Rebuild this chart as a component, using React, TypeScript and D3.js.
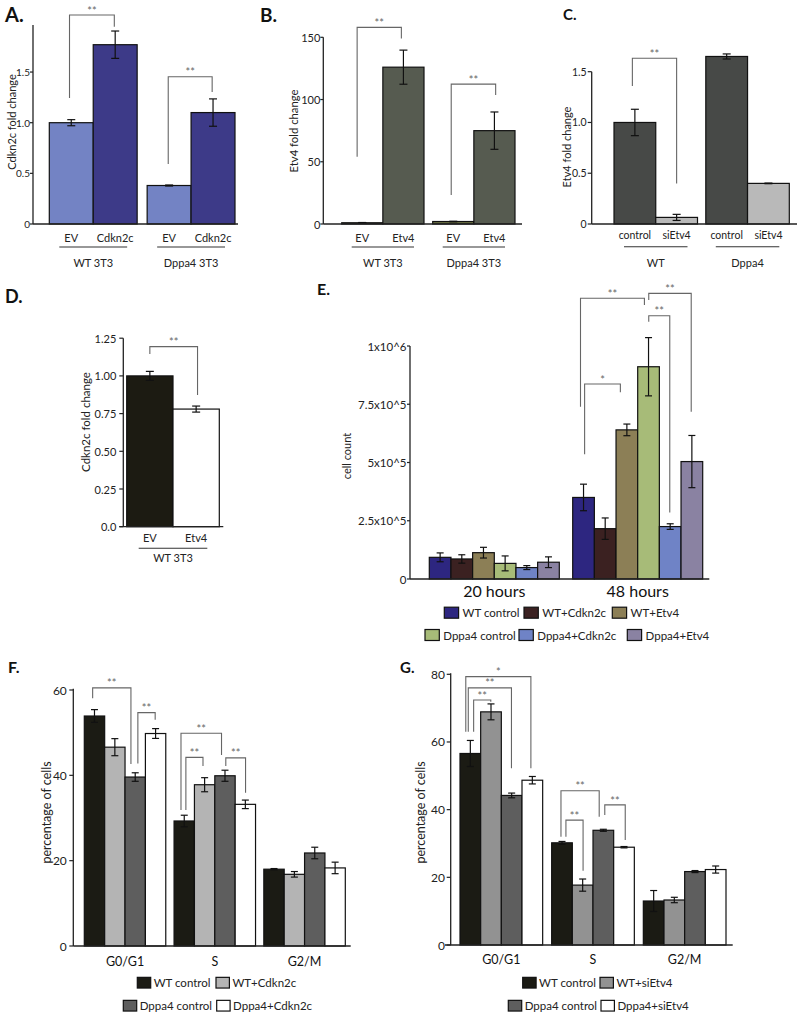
import React from "react";
import * as d3 from "d3";

const FONT = "Lato, 'Open Sans', 'DejaVu Sans', sans-serif";

// ---------------- Panel A ----------------
const aGroups = ["WT 3T3", "Dppa4 3T3"];
const aSeries = ["EV", "Cdkn2c"];
const aValues = [[1.0, 1.77], [0.38, 1.1]];
const aErrors = [[0.03, 0.135], [0.005, 0.135]];
const aColors = ["#7383c4", "#3d3a88"];
const aTicks = [0, 0.5, 1.0, 1.5];
const aTickLabels = ["0", "0.5", "1.0", "1.5"];
const aBrackets = [
  { g1: 0, s1: 0, f1: 0.46, b1: 1.244, top: 2.063, g2: 0, s2: 1, f2: 0.48, b2: 1.948, label: "**" },
  { g1: 1, s1: 0, f1: 0.48, b1: 0.592, top: 1.454, g2: 1, s2: 1, f2: 0.48, b2: 1.303, label: "**" },
];

// ---------------- Panel B ----------------
const bGroups = ["WT 3T3", "Dppa4 3T3"];
const bSeries = ["EV", "Etv4"];
const bValues = [[1.0, 126], [2.0, 75]];
const bErrors = [[0.2, 13.7], [0.2, 15]];
const bColors = ["#6c7245", "#565b50"];
const bTicks = [0, 50, 100, 150];
const bTickLabels = ["0", "50", "100", "150"];
const bBrackets = [
  { g1: 0, s1: 0, f1: 0.375, b1: 54, top: 158, g2: 0, s2: 1, f2: 0.45, b2: 149, label: "**" },
  { g1: 1, s1: 0, f1: 0.45, b1: 23.3, top: 112.4, g2: 1, s2: 1, f2: 0.53, b2: 103.6, label: "**" },
];

// ---------------- Panel C ----------------
const cGroups = ["WT", "Dppa4"];
const cSeries = ["control", "siEtv4"];
const cValues = [[1.0, 0.065], [1.65, 0.4]];
const cErrors = [[0.13, 0.03], [0.025, 0.003]];
const cColors = ["#474947", "#b9b9b9"];
const cTicks = [0, 0.5, 1.0, 1.5];
const cTickLabels = ["0", "0.5", "1.0", "1.5"];
const cBrackets = [
  { g1: 0, s1: 0, f1: 0.44, b1: 1.36, top: 1.633, g2: 0, s2: 1, f2: 0.5, b2: 0.4, label: "**" },
];

// ---------------- Panel D ----------------
const dGroups = ["WT 3T3"];
const dSeries = ["EV", "Etv4"];
const dValues = [[1.0, 0.78]];
const dErrors = [[0.03, 0.02]];
const dColors = ["#1c1b12", "#ffffff"];
const dTicks = [0, 0.25, 0.5, 0.75, 1.0, 1.25];
const dTickLabels = ["0.0", "0.25", "0.50", "0.75", "1.00", "1.25"];
const dBrackets = [
  { g1: 0, s1: 0, f1: 0.5, b1: 1.145, top: 1.194, g2: 0, s2: 1, f2: 0.53, b2: 0.873, label: "**" },
];

// ---------------- Panel E ----------------
const eGroups = ["20 hours", "48 hours"];
const eSeries = ["WT control", "WT+Cdkn2c", "WT+Etv4", "Dppa4 control", "Dppa4+Cdkn2c", "Dppa4+Etv4"];
const eValues = [
  [93000, 86000, 113000, 67000, 49000, 72000],
  [350000, 216000, 640000, 911000, 225000, 504000],
];
const eErrors = [
  [19000, 18000, 23000, 32000, 8500, 23000],
  [57000, 46000, 25000, 125000, 12000, 112000],
];
const eColors = ["#2d2680", "#3b2121", "#8c7f56", "#a7bb78", "#6f83c6", "#8a82a2"];
const eTicks = [0, 250000, 500000, 750000, 1000000];
const eTickLabels = ["0", "2.5x10^5", "5x10^5", "7.5x10^5", "1x10^6"];
const eBrackets = [
  { g1: 1, s1: 0, f1: 0.55, b1: 535000, top: 837000, g2: 1, s2: 2, f2: 0.2, b2: 801000, label: "*" },
  { g1: 1, s1: 0, f1: 0.36, b1: 739000, top: 1205000, g2: 1, s2: 3, f2: 0.31, b2: 1176000, label: "**" },
  { g1: 1, s1: 3, f1: 0.51, b1: 1197000, top: 1226000, g2: 1, s2: 5, f2: 0.47, b2: 718000, label: "**" },
  { g1: 1, s1: 3, f1: 0.51, b1: 1104000, top: 1130000, g2: 1, s2: 4, f2: 0.48, b2: 285000, label: "**" },
];

// ---------------- Panel F ----------------
const fGroups = ["G0/G1", "S", "G2/M"];
const fSeries = ["WT control", "WT+Cdkn2c", "Dppa4 control", "Dppa4+Cdkn2c"];
const fValues = [
  [53.9, 46.6, 39.6, 49.8],
  [29.3, 37.8, 39.9, 33.2],
  [18.0, 16.8, 21.8, 18.3],
];
const fErrors = [
  [1.5, 2.0, 1.0, 1.15],
  [1.35, 1.65, 1.3, 1.0],
  [0.15, 0.65, 1.35, 1.35],
];
const fColors = ["#1b1b14", "#b4b4b4", "#5e5e5e", "#ffffff"];
const fTicks = [0, 20, 40, 60];
const fTickLabels = ["0", "20", "40", "60"];
const fBrackets = [
  { g1: 0, s1: 0, f1: 0.41, b1: 58.05, top: 60.5, g2: 0, s2: 2, f2: 0.29, b2: 42.65, label: "**" },
  { g1: 0, s1: 2, f1: 0.63, b1: 42.8, top: 54.7, g2: 0, s2: 3, f2: 0.48, b2: 53.0, label: "**" },
  { g1: 1, s1: 0, f1: 0.34, b1: 31.9, top: 49.85, g2: 1, s2: 2, f2: 0.33, b2: 44.76, label: "**" },
  { g1: 1, s1: 0, f1: 0.58, b1: 31.9, top: 44.2, g2: 1, s2: 1, f2: 0.42, b2: 42.2, label: "**" },
  { g1: 1, s1: 2, f1: 0.54, b1: 42.2, top: 44.1, g2: 1, s2: 3, f2: 0.51, b2: 35.9, label: "**" },
];

// ---------------- Panel G ----------------
const gGroups = ["G0/G1", "S", "G2/M"];
const gSeries = ["WT control", "WT+siEtv4", "Dppa4 control", "Dppa4+siEtv4"];
const gValues = [
  [56.6, 68.9, 44.2, 48.7],
  [30.2, 17.7, 33.9, 28.9],
  [13.0, 13.3, 21.7, 22.3],
];
const gErrors = [
  [3.85, 2.35, 0.7, 1.1],
  [0.4, 1.8, 0.3, 0.2],
  [3.1, 0.8, 0.3, 1.05],
];
const gColors = ["#1b1b14", "#929292", "#5e5e5e", "#ffffff"];
const gTicks = [0, 20, 40, 60, 80];
const gTickLabels = ["0", "20", "40", "60", "80"];
const gBrackets = [
  { g1: 0, s1: 0, f1: 0.28, b1: 63.0, top: 79.3, g2: 0, s2: 3, f2: 0.43, b2: 52.2, label: "*" },
  { g1: 0, s1: 0, f1: 0.4, b1: 63.0, top: 76.0, g2: 0, s2: 2, f2: 0.49, b2: 52.2, label: "**" },
  { g1: 0, s1: 0, f1: 0.66, b1: 63.0, top: 72.4, g2: 0, s2: 1, f2: 0.49, b2: 71.9, label: "**" },
  { g1: 1, s1: 0, f1: 0.45, b1: 32.0, top: 45.6, g2: 1, s2: 2, f2: 0.3, b2: 37.9, label: "**" },
  { g1: 1, s1: 0, f1: 0.69, b1: 32.0, top: 36.9, g2: 1, s2: 1, f2: 0.52, b2: 21.95, label: "**" },
  { g1: 1, s1: 2, f1: 0.57, b1: 38.4, top: 41.4, g2: 1, s2: 3, f2: 0.56, b2: 31.0, label: "**" },
];

type Bracket = {
  g1: number; s1: number; f1: number; b1: number; top: number;
  g2: number; s2: number; f2: number; b2: number; label: string;
};

type PanelProps = {
  groups: string[];
  series: string[];
  values: number[][];
  errors: number[][];
  colors: string[];
  yDomain: [number, number];
  yRange: [number, number];
  axisX: number;
  axisTop: number;
  xRange: [number, number];
  gap: number;
  xAxisStart: number;
  xAxisEnd: number;
  ticks: number[];
  tickLabels: string[];
  tickFont: number;
  tickLen: number;
  tickGap: number;
  brackets: Bracket[];
  capW: number;
  mode: "sub" | "group";
  subY?: number;
  lineY?: number;
  groupY: number;
  labelFont: number;
  groupFont: number;
  lineInset?: number;
  starFont: number;
};

function BarPanel(p: PanelProps) {
  const y = d3.scaleLinear().domain(p.yDomain).range(p.yRange);
  const n = p.groups.length;
  const bw = (p.xRange[1] - p.xRange[0] - (n - 1) * p.gap) / n;
  const pad = n > 1 ? p.gap / (bw + p.gap) : 0;
  const outer = d3.scaleBand<string>().domain(p.groups).range(p.xRange).paddingInner(pad).paddingOuter(0);
  const inner = d3.scaleBand<string>().domain(p.series).range([0, outer.bandwidth()]);
  const bx = (g: number, s: number) => (outer(p.groups[g]) ?? 0) + (inner(p.series[s]) ?? 0);
  const w = inner.bandwidth();
  const y0 = y(0);

  const bars: React.ReactNode[] = [];
  const errs: React.ReactNode[] = [];
  p.values.forEach((row, g) =>
    row.forEach((v, s) => {
      const x = bx(g, s);
      bars.push(
        <rect key={`b${g}-${s}`} x={x} y={y(v)} width={w} height={y0 - y(v)}
          fill={p.colors[s]} stroke="#111" strokeWidth={1.2} />
      );
      const e = p.errors[g][s];
      const cx = x + w / 2;
      const yt = y(v + e);
      const yb = y(v - e);
      errs.push(
        <g key={`e${g}-${s}`} stroke="#111" strokeWidth={1.2}>
          <line x1={cx} x2={cx} y1={yt} y2={yb} />
          <line x1={cx - p.capW} x2={cx + p.capW} y1={yt} y2={yt} />
          <line x1={cx - p.capW} x2={cx + p.capW} y1={yb} y2={yb} />
        </g>
      );
    })
  );

  const brackets = p.brackets.map((b, i) => {
    const xl = bx(b.g1, b.s1) + w * b.f1;
    const xr = bx(b.g2, b.s2) + w * b.f2;
    const yt = y(b.top);
    return (
      <g key={`k${i}`}>
        <path d={`M${xl},${y(b.b1)}V${yt}H${xr}V${y(b.b2)}`} fill="none" stroke="#666" strokeWidth={1.1} />
        <text x={(xl + xr) / 2} y={yt - 7 + p.starFont * 0.6} textAnchor="middle" fontSize={p.starFont}
          fill="#666" fontFamily={FONT}>{b.label}</text>
      </g>
    );
  });

  const labels: React.ReactNode[] = [];
  if (p.mode === "sub") {
    p.groups.forEach((gname, g) => {
      p.series.forEach((sname, s) => {
        labels.push(
          <text key={`s${g}-${s}`} x={bx(g, s) + w / 2} y={p.subY} textAnchor="middle"
            dominantBaseline="central" fontSize={p.labelFont} fontFamily={FONT} fill="#222">{sname}</text>
        );
      });
      const gx = outer(gname) ?? 0;
      const inset = p.lineInset ?? 10;
      labels.push(
        <line key={`l${g}`} x1={gx + inset} x2={gx + outer.bandwidth() - inset} y1={p.lineY} y2={p.lineY}
          stroke="#333" strokeWidth={1.1} />
      );
      labels.push(
        <text key={`g${g}`} x={gx + outer.bandwidth() / 2} y={p.groupY} textAnchor="middle"
          dominantBaseline="central" fontSize={p.groupFont} fontFamily={FONT} fill="#222">{gname}</text>
      );
    });
  } else {
    p.groups.forEach((gname, g) => {
      const gx = outer(gname) ?? 0;
      labels.push(
        <text key={`g${g}`} x={gx + outer.bandwidth() / 2} y={p.groupY} textAnchor="middle"
          dominantBaseline="central" fontSize={p.groupFont} fontFamily={FONT} fill="#111">{gname}</text>
      );
    });
  }

  return (
    <g>
      {bars}
      {errs}
      {brackets}
      <line x1={p.axisX} x2={p.axisX} y1={y0} y2={y(p.axisTop)} stroke="#222" strokeWidth={1.3} />
      <line x1={p.xAxisStart} x2={p.xAxisEnd} y1={y0} y2={y0} stroke="#222" strokeWidth={1.3} />
      {p.ticks.map((t, i) => (
        <g key={`t${i}`}>
          <line x1={p.axisX - p.tickLen} x2={p.axisX} y1={y(t)} y2={y(t)} stroke="#222" strokeWidth={1.2} />
          <text x={p.axisX - p.tickGap} y={y(t)} textAnchor="end" dominantBaseline="central"
            fontSize={p.tickFont} fontFamily={FONT} fill="#222">{p.tickLabels[i]}</text>
        </g>
      ))}
      {labels}
    </g>
  );
}

function Legend(props: {
  series: string[]; colors: string[]; rows: number[][]; rowY: number[]; rowX: number[][];
  sw: number; sh: number; gapText: number; font: number;
}) {
  const items: React.ReactNode[] = [];
  props.rows.forEach((row, r) =>
    row.forEach((si, k) => {
      const x = props.rowX[r][k];
      const yc = props.rowY[r];
      items.push(
        <g key={`${r}-${k}`}>
          <rect x={x} y={yc - props.sh / 2} width={props.sw} height={props.sh}
            fill={props.colors[si]} stroke="#111" strokeWidth={1.2} />
          <text x={x + props.sw + props.gapText} y={yc} dominantBaseline="central"
            fontSize={props.font} fontFamily={FONT} fill="#222">{props.series[si]}</text>
        </g>
      );
    })
  );
  return <g>{items}</g>;
}

function AxisTitle(props: { x: number; y: number; text: string; size: number }) {
  return (
    <text transform={`translate(${props.x},${props.y}) rotate(-90)`} textAnchor="middle"
      dominantBaseline="central" fontSize={props.size} fontFamily={FONT} fill="#222">{props.text}</text>
  );
}

function PanelLetter(props: { x: number; y: number; text: string; size: number }) {
  return (
    <text x={props.x} y={props.y} fontSize={props.size} fontWeight="bold" fontFamily={FONT} fill="#111">
      {props.text}
    </text>
  );
}

export default function App() {
  return (
    <svg width={800} height={1014} style={{ position: "absolute", left: 0, top: 0, background: "#fff" }}>
      <rect x={0} y={0} width={800} height={1014} fill="#fff" />

      {/* A */}
      <PanelLetter x={5} y={22} text="A." size={20} />
      <AxisTitle x={11.5} y={122} text="Cdkn2c fold change" size={11} />
      <BarPanel groups={aGroups} series={aSeries} values={aValues} errors={aErrors} colors={aColors}
        yDomain={[0, 1]} yRange={[224, 122.7]} axisX={33} axisTop={1.965}
        xRange={[49.3, 235]} gap={10} xAxisStart={33} xAxisEnd={238}
        ticks={aTicks} tickLabels={aTickLabels} tickFont={10} tickLen={3} tickGap={3}
        brackets={aBrackets} capW={4}
        mode="sub" subY={237} lineY={247} groupY={262} labelFont={11} groupFont={11} starFont={11} />

      {/* B */}
      <PanelLetter x={260} y={22} text="B." size={19} />
      <AxisTitle x={293.3} y={131} text="Etv4 fold change" size={11.3} />
      <BarPanel groups={bGroups} series={bSeries} values={bValues} errors={bErrors} colors={bColors}
        yDomain={[0, 150]} yRange={[224, 37.3]} axisX={323.3} axisTop={150}
        xRange={[341.7, 515]} gap={8.7} xAxisStart={323.3} xAxisEnd={522}
        ticks={bTicks} tickLabels={bTickLabels} tickFont={11} tickLen={3} tickGap={3}
        brackets={bBrackets} capW={4}
        mode="sub" subY={237} lineY={247} groupY={262} labelFont={11} groupFont={11} starFont={11} />

      {/* C */}
      <PanelLetter x={563} y={20} text="C." size={15} />
      <AxisTitle x={566} y={147} text="Etv4 fold change" size={11} />
      <BarPanel groups={cGroups} series={cSeries} values={cValues} errors={cErrors} colors={cColors}
        yDomain={[0, 1.5]} yRange={[224, 71.7]} axisX={591.7} axisTop={1.5}
        xRange={[614, 789.3]} gap={8.3} xAxisStart={591.7} xAxisEnd={797}
        ticks={cTicks} tickLabels={cTickLabels} tickFont={10.5} tickLen={4} tickGap={5}
        brackets={cBrackets} capW={4}
        mode="sub" subY={235} lineY={246.7} groupY={262} labelFont={10.5} groupFont={11} starFont={11} />

      {/* D */}
      <PanelLetter x={5} y={303} text="D." size={18} />
      <AxisTitle x={85} y={422} text="Cdkn2c fold change" size={11.5} />
      <BarPanel groups={dGroups} series={dSeries} values={dValues} errors={dErrors} colors={dColors}
        yDomain={[0, 1.25]} yRange={[526.7, 338.2]} axisX={123.3} axisTop={1.25}
        xRange={[126.7, 219.3]} gap={0} xAxisStart={119.3} xAxisEnd={223.3}
        ticks={dTicks} tickLabels={dTickLabels} tickFont={11} tickLen={4} tickGap={7}
        brackets={dBrackets} capW={4}
        mode="sub" subY={537.3} lineY={548.3} groupY={557.5} labelFont={11} groupFont={11}
        lineInset={12} starFont={11} />

      {/* E */}
      <PanelLetter x={317} y={295} text="E." size={16} />
      <AxisTitle x={346} y={456} text="cell count" size={11} />
      <BarPanel groups={eGroups} series={eSeries} values={eValues} errors={eErrors} colors={eColors}
        yDomain={[0, 1000000]} yRange={[579, 346]} axisX={410} axisTop={1000000}
        xRange={[429.3, 702.7]} gap={13.4} xAxisStart={410} xAxisEnd={709.3}
        ticks={eTicks} tickLabels={eTickLabels} tickFont={11.5} tickLen={3} tickGap={3.5}
        brackets={eBrackets} capW={3.5}
        mode="group" groupY={590} labelFont={10} groupFont={16} starFont={11} />
      <Legend series={eSeries} colors={eColors} rows={[[0, 1, 2], [3, 4, 5]]} rowY={[612.7, 635]}
        rowX={[[444.3, 524, 612.3], [425, 519, 627.3]]} sw={14.3} sh={11} gapText={4} font={11.5} />

      {/* F */}
      <PanelLetter x={8} y={673} text="F." size={16} />
      <AxisTitle x={46.7} y={812.5} text="percentage of cells" size={12.5} />
      <BarPanel groups={fGroups} series={fSeries} values={fValues} errors={fErrors} colors={fColors}
        yDomain={[0, 60]} yRange={[946, 690]} axisX={73.3} axisTop={60.3}
        xRange={[84.3, 345.3]} gap={8.3} xAxisStart={73.3} xAxisEnd={350.7}
        ticks={fTicks} tickLabels={fTickLabels} tickFont={12} tickLen={4} tickGap={6.5}
        brackets={fBrackets} capW={3.5}
        mode="group" groupY={961} labelFont={12} groupFont={12.5} starFont={11} />
      <Legend series={fSeries} colors={fColors} rows={[[0, 1], [2, 3]]} rowY={[982.7, 1005.7]}
        rowX={[[137.3, 216], [123.3, 216.7]]} sw={13.4} sh={10.7} gapText={3} font={11.5} />

      {/* G */}
      <PanelLetter x={400} y={673} text="G." size={15} />
      <AxisTitle x={420.7} y={812.5} text="percentage of cells" size={12.5} />
      <BarPanel groups={gGroups} series={gSeries} values={gValues} errors={gErrors} colors={gColors}
        yDomain={[0, 80]} yRange={[945, 674.3]} axisX={450.7} axisTop={80.3}
        xRange={[460, 726]} gap={9} xAxisStart={445} xAxisEnd={732.7}
        ticks={gTicks} tickLabels={gTickLabels} tickFont={12} tickLen={4} tickGap={5.7}
        brackets={gBrackets} capW={3.5}
        mode="group" groupY={959.3} labelFont={12} groupFont={12.5} starFont={11} />
      <Legend series={gSeries} colors={gColors} rows={[[0, 1], [2, 3]]} rowY={[982.7, 1005.7]}
        rowX={[[522.7, 600], [508.3, 601]]} sw={13.4} sh={10.7} gapText={3} font={11.5} />
    </svg>
  );
}
